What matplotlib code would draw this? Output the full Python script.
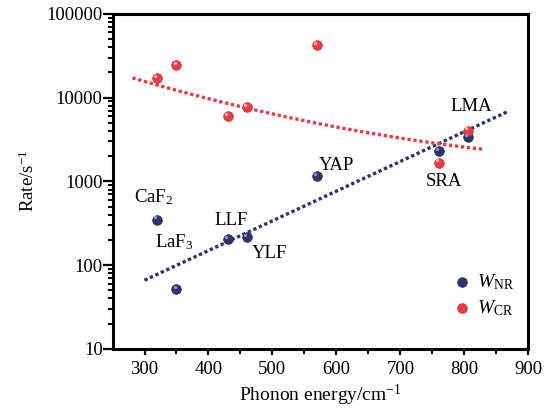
import matplotlib
matplotlib.use("Agg")
import matplotlib.pyplot as plt
import numpy as np
from matplotlib.ticker import LogLocator, FixedLocator, NullFormatter, MultipleLocator

plt.rcParams["font.family"] = ["Liberation Serif", "DejaVu Serif"]
plt.rcParams["mathtext.fontset"] = "custom"
plt.rcParams["mathtext.rm"] = "Liberation Serif"
plt.rcParams["mathtext.it"] = "Liberation Serif:italic"

# phonon energy (cm^-1) of each host
hosts = ["CaF2", "LaF3", "LLF", "YLF", "YAP", "SRA", "LMA"]
phonon = [320, 350, 430, 460, 570, 760, 805]
w_nr = [350, 52, 204, 214, 1150, 2280, 3400]
w_cr = [17300, 24600, 6100, 7700, 42700, 1680, 4050]

# points
nr_fit_x = [300, 867]
nr_fit_y = [66, 6770]
cr_fit_x = [281, 460, 590, 757, 828]
cr_fit_y = [17100, 7680, 4550, 2810, 2450]

# host label positions (data coords)
label_text = ["CaF$_2$", "LaF$_3$", "LLF", "YLF", "YAP", "SRA", "LMA"]
label_x = [284, 316, 409, 467, 573, 739, 778]
label_y = [640, 188, 344, 139, 1550, 1000, 7800]

blue = "#2b3370"
red = "#ee3a40"

fig = plt.figure(figsize=(5.52, 4.09), dpi=100)
ax = fig.add_axes([0.205, 0.147, 0.752, 0.819])

# fitted trends
xs = np.linspace(nr_fit_x[0], nr_fit_x[-1], 100)
c = np.polyfit(nr_fit_x, np.log10(nr_fit_y), 1)
ax.plot(xs, 10 ** np.polyval(c, xs), linestyle=(0, (1, 0.8)), color=blue, lw=2.4)
xs = np.linspace(cr_fit_x[0], cr_fit_x[-1], 100)
c = np.polyfit(cr_fit_x, np.log10(cr_fit_y), 2)
ax.plot(xs, 10 ** np.polyval(c, xs), linestyle=(0, (1, 0.8)), color=red, lw=2.4)

ax.scatter(phonon, w_nr, s=48, color=blue, edgecolors="#1e2450", linewidths=0.5,
           zorder=3, label=r"$W_{\mathrm{NR}}$")
ax.scatter(phonon, w_cr, s=48, color=red, edgecolors="#c82a30", linewidths=0.5,
           zorder=3, label=r"$W_{\mathrm{CR}}$")
# small highlight to give the spheres some shine
ax.scatter(np.array(phonon) - 3, np.array(w_nr) * 1.06, s=6, color="#8d93c0",
           linewidths=0, zorder=4)
ax.scatter(np.array(phonon) - 3, np.array(w_cr) * 1.06, s=6, color="#ffb0b0",
           linewidths=0, zorder=4)

for t, x, y in zip(label_text, label_x, label_y):
    ax.text(x, y, t, fontsize=13.5, va="center", ha="left")

ax.set_yscale("log")
ax.set_xlim(251, 900)
ax.set_ylim(10, 100000)
ax.xaxis.set_major_locator(FixedLocator([300, 400, 500, 600, 700, 800, 900]))
ax.xaxis.set_minor_locator(MultipleLocator(50))
ax.yaxis.set_major_locator(LogLocator(base=10, numticks=10))
ax.yaxis.set_minor_locator(LogLocator(base=10, subs=np.arange(2, 10), numticks=10))
ax.yaxis.set_minor_formatter(NullFormatter())
ax.set_yticks([10, 100, 1000, 10000, 100000])
ax.set_yticklabels(["10", "100", "1000", "10000", "100000"])

ax.tick_params(axis="both", which="major", direction="out", width=1.6, labelsize=13.5)
ax.tick_params(axis="x", which="major", length=4, pad=5)
ax.tick_params(axis="y", which="major", length=7, pad=0.5)
ax.tick_params(axis="both", which="minor", direction="out", length=3.5, width=1.4)
ax.tick_params(top=False, right=False, which="both")
for s in ax.spines.values():
    s.set_linewidth(2.2)

ax.set_xlabel("Phonon energy/cm$^{-1}$", fontsize=14, labelpad=3)
ax.set_ylabel("Rate/s$^{-1}$", fontsize=13.5, labelpad=6)

ax.legend(loc="lower right", bbox_to_anchor=(0.985, 0.07), frameon=False,
          fontsize=14, handletextpad=0.2, labelspacing=0.3, scatterpoints=1,
          borderaxespad=0, handlelength=1.2)

fig.savefig("out.png", dpi=100)
